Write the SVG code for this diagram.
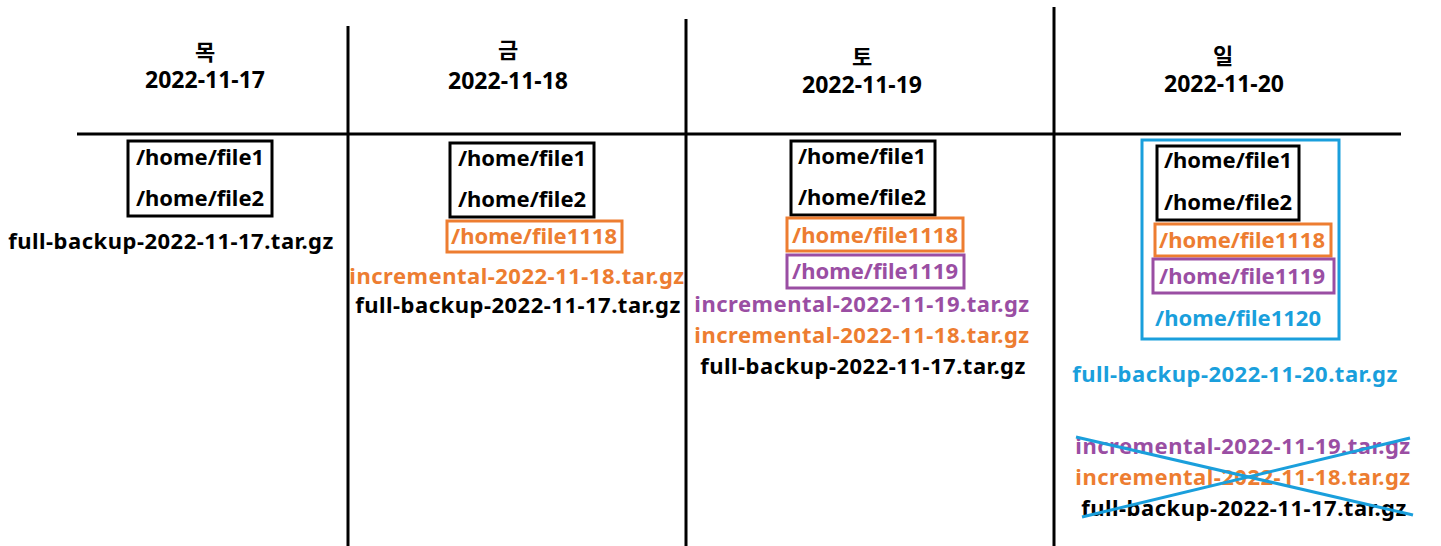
<svg xmlns="http://www.w3.org/2000/svg" width="1441" height="546" viewBox="0 0 1441 546">
<style>
text{font-family:"Noto Sans","Noto Sans CJK KR",sans-serif;font-weight:bold;text-anchor:middle;font-size:22px;fill:#000}
.hd{font-size:23px}
.kr{font-family:"Noto Sans CJK KR",sans-serif;font-size:22px}
.lg{letter-spacing:0.5px}
.o{fill:#ed7d31}.p{fill:#9a4ea3}.b{fill:#1a9fdc}
.rk{fill:none;stroke:#000;stroke-width:3}
.ro{fill:none;stroke:#ed7d31;stroke-width:3}
.rp{fill:none;stroke:#9a4ea3;stroke-width:3}
.rb{fill:none;stroke:#1a9fdc;stroke-width:3}
.ln{stroke:#000;stroke-width:3}
.x{stroke:#1a9fdc;stroke-width:3}
</style>
<rect width="1441" height="546" fill="#fff"/>
<g id="grid">
<line class="ln" x1="77" y1="134" x2="1401" y2="134"/>
<line class="ln" x1="348" y1="26" x2="348" y2="546"/>
<line class="ln" x1="686" y1="19" x2="686" y2="546"/>
<line class="ln" x1="1054" y1="7" x2="1054" y2="546"/>
</g>
<g id="col-thu">
<text class="kr" x="205" y="60">목</text>
<text class="hd" x="205" y="88">2022-11-17</text>
<rect class="rk" x="128" y="141" width="144" height="75"/>
<text x="200" y="165">/home/file1</text>
<text x="200" y="206">/home/file2</text>
<text class="lg" x="171" y="249">full-backup-2022-11-17.tar.gz</text>
</g>
<g id="col-fri">
<text class="kr" x="508" y="58">금</text>
<text class="hd" x="508" y="89">2022-11-18</text>
<rect class="rk" x="450" y="143" width="144" height="74"/>
<text x="522" y="166">/home/file1</text>
<text x="522" y="207">/home/file2</text>
<rect class="ro" x="447" y="221" width="175" height="31"/>
<text class="o" x="534" y="244">/home/file1118</text>
<text class="o lg" x="517" y="284">incremental-2022-11-18.tar.gz</text>
<text class="lg" x="518" y="313">full-backup-2022-11-17.tar.gz</text>
</g>
<g id="col-sat">
<text class="kr" x="862" y="65">토</text>
<text class="hd" x="862" y="93">2022-11-19</text>
<rect class="rk" x="791" y="141" width="144" height="74"/>
<text x="862" y="164">/home/file1</text>
<text x="862" y="205">/home/file2</text>
<rect class="ro" x="787" y="218" width="176" height="33"/>
<text class="o" x="875" y="243">/home/file1118</text>
<rect class="rp" x="787" y="255" width="177" height="33"/>
<text class="p" x="875" y="279">/home/file1119</text>
<text class="p lg" x="862" y="312">incremental-2022-11-19.tar.gz</text>
<text class="o lg" x="862" y="343">incremental-2022-11-18.tar.gz</text>
<text class="lg" x="863" y="374">full-backup-2022-11-17.tar.gz</text>
</g>
<g id="col-sun">
<text class="kr" x="1223" y="64">일</text>
<text class="hd" x="1224" y="92">2022-11-20</text>
<rect class="rb" x="1142" y="140" width="197" height="199"/>
<rect class="rk" x="1157" y="146" width="142" height="74"/>
<text x="1228" y="168">/home/file1</text>
<text x="1228" y="210">/home/file2</text>
<rect class="ro" x="1155" y="224" width="176" height="32"/>
<text class="o" x="1242" y="248">/home/file1118</text>
<rect class="rp" x="1153" y="259" width="181" height="34"/>
<text class="p" x="1242" y="284">/home/file1119</text>
<text class="b" x="1238" y="326">/home/file1120</text>
<text class="b lg" x="1235" y="382">full-backup-2022-11-20.tar.gz</text>
<text class="p lg" x="1243" y="454">incremental-2022-11-19.tar.gz</text>
<text class="o lg" x="1243" y="485">incremental-2022-11-18.tar.gz</text>
<text class="lg" x="1244" y="516">full-backup-2022-11-17.tar.gz</text>
</g>
<g id="connectors">
<line class="x" x1="1076" y1="437" x2="1413" y2="515"/>
<line class="x" x1="1082" y1="517" x2="1410" y2="438"/>
</g>
</svg>
